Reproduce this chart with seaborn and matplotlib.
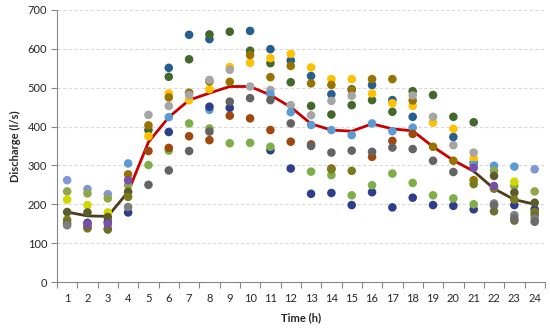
import numpy as np
import pandas as pd
import matplotlib
matplotlib.use("Agg")
import matplotlib.pyplot as plt
import seaborn as sns

n = np.nan
hours = list(range(1, 25))

# scatter series (discharge, l/s) per hour 1..24
mid_blue    = [n,n,n,n,n,551,636,625,n,646,599,570,530,483,496,507,468,425,n,373,307,n,n,n]
dark_green  = [n,n,n,n,391,528,573,637,644,595,563,514,453,431,455,468,438,491,481,425,411,n,n,n]
yellow      = [n,n,n,n,375,485,468,496,553,564,576,587,552,522,522,485,460,453,410,394,318,n,n,n]
olive       = [n,n,n,277,403,475,487,516,515,584,527,556,511,507,494,522,522,467,348,312,262,n,n,n]
gray        = [n,n,n,n,430,453,481,520,546,503,494,455,429,466,479,n,n,480,425,352,333,n,n,n]
light_blue  = [n,n,n,305,n,424,n,443,n,n,483,437,404,391,378,408,388,397,n,n,301,299,297,n]
navy        = [n,152,155,179,n,386,n,451,448,n,339,292,227,229,198,231,192,217,198,196,187,n,198,187]
green       = [n,n,n,n,301,338,408,395,357,358,348,n,284,275,223,249,279,255,223,215,200,n,n,n]
dark_orange = [n,n,n,n,337,345,375,365,428,421,391,361,354,292,n,322,363,381,n,n,n,n,n,n]
dark_gray   = [n,n,n,n,250,287,337,387,464,473,468,408,350,333,338,335,346,342,312,283,n,n,n,n]
lavender    = [262,239,226,n,n,n,n,n,n,n,n,n,n,n,n,n,n,n,n,n,n,n,n,290]
olive_green = [233,228,215,249,n,n,n,n,n,n,n,n,n,n,n,n,n,n,n,n,n,286,247,233]
yellow_green= [212,198,179,n,n,n,n,n,n,n,n,n,n,n,n,n,n,n,n,n,n,n,258,n]
dark_olive  = [180,179,167,232,n,n,n,n,n,n,n,n,n,n,n,n,n,n,n,n,n,273,230,204]
olive2      = [160,138,138,219,n,n,n,n,n,n,n,n,n,290,286,n,n,n,n,n,252,240,212,180]
olive3      = [152,142,135,n,n,n,n,n,n,n,n,n,n,n,n,n,n,n,n,n,n,182,158,172]
purple      = [n,149,150,262,n,n,n,n,n,n,n,n,n,n,n,n,n,n,n,n,294,247,n,n]
gray2       = [146,n,n,193,n,n,n,n,n,n,n,n,n,n,n,n,n,n,n,n,n,202,172,163]
gray3       = [n,n,n,n,n,n,n,n,n,n,n,n,n,n,n,n,n,n,n,n,n,197,163,155]

# lines
red_line   = [n,n,n,232,360,424,468,486,503,503,481,450,407,391,388,407,394,389,348,313,285,n,n,n]
brown_line = [180,170,169,232,n,n,n,n,n,n,n,n,n,n,n,n,n,n,n,n,285,240,212,200]

series = {
    "mid_blue": (mid_blue, "#255E91"), "dark_green": (dark_green, "#43682B"),
    "yellow": (yellow, "#FFC000"), "olive": (olive, "#997300"),
    "gray": (gray, "#A5A5A5"), "light_blue": (light_blue, "#5B9BD5"),
    "navy": (navy, "#2E3D8C"), "green": (green, "#7DAE48"),
    "dark_orange": (dark_orange, "#9E480E"), "dark_gray": (dark_gray, "#636363"),
    "lavender": (lavender, "#7F96DA"), "olive_green": (olive_green, "#8FA64B"),
    "yellow_green": (yellow_green, "#D0D800"), "dark_olive": (dark_olive, "#5B5B2B"),
    "olive2": (olive2, "#7B7B1E"), "olive3": (olive3, "#6E6E30"),
    "purple": (purple, "#7A4FA8"), "gray2": (gray2, "#7F7F7F"), "gray3": (gray3, "#6B6B6B"),
}

rows = []
for name, (vals, col) in series.items():
    for h, v in zip(hours, vals):
        if not np.isnan(v):
            rows.append((h, v, name))
df = pd.DataFrame(rows, columns=["hour", "value", "series"])
pal = {k: c for k, (v, c) in series.items()}

red_df = pd.DataFrame({"hour": hours, "value": red_line}).dropna()
brown_df = pd.DataFrame({"hour": hours, "value": brown_line})
brown_df["seg"] = np.where(brown_df["hour"] <= 4, 0, 1)
brown_df = brown_df.dropna()

sns.set_theme(style="white")
plt.rcParams["font.family"] = ["Lato", "DejaVu Sans"]

fig = plt.figure(figsize=(5.5, 3.31), dpi=100)
ax = fig.add_axes([0.1036, 0.148, 0.887, 0.822])

for y in range(100, 701, 100):
    ax.axhline(y, color="#D9D9D9", lw=0.8, ls=(0, (3, 2)), zorder=0)

sns.lineplot(data=red_df, x="hour", y="value", color="#C80000", lw=2, ax=ax, zorder=2)
sns.lineplot(data=brown_df, x="hour", y="value", units="seg", estimator=None,
             color="#4F3A1E", lw=2, ax=ax, zorder=2)
sns.scatterplot(data=df, x="hour", y="value", hue="series", palette=pal, s=38,
                edgecolor="none", legend=False, ax=ax, zorder=3)

ax.set_xlim(0.5, 24.5)
ax.set_ylim(0, 700)
ax.set_xticks(hours)
ax.set_xticklabels([str(h) for h in hours], fontsize=8)
ax.set_xticks(np.arange(0.5, 25, 1), minor=True)
ax.tick_params(axis="x", which="major", length=0, pad=8)
ax.tick_params(axis="x", which="minor", length=4, color="#868686", width=0.8, direction="out")
ax.set_yticks(range(0, 701, 100))
ax.set_yticklabels([str(v) for v in range(0, 701, 100)], fontsize=8)
ax.tick_params(axis="y", length=4, color="#868686", width=0.8, direction="out", pad=3)
ax.tick_params(axis="both", which="both", bottom=True, left=True)
for s in ["top", "right"]:
    ax.spines[s].set_visible(False)
for s in ["left", "bottom"]:
    ax.spines[s].set_color("#868686")
    ax.spines[s].set_linewidth(0.8)
ax.set_xlabel("Time (h)", fontsize=8, fontweight="bold", labelpad=6)
ax.set_ylabel("Discharge (l/s)", fontsize=8, fontweight="bold", labelpad=5)

fig.savefig("out.png", dpi=100)
